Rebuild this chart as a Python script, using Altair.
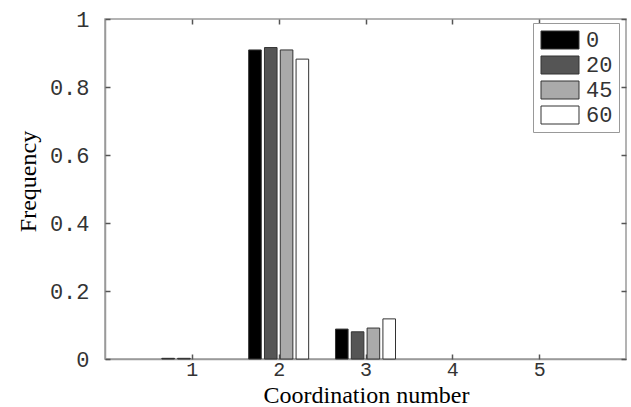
import altair as alt
import pandas as pd

coords = [1, 2, 3]
angles = ["0", "20", "45", "60"]
freq_0 = [0.002, 0.909, 0.088]
freq_20 = [0.002, 0.916, 0.080]
freq_45 = [0.0, 0.909, 0.091]
freq_60 = [0.0, 0.882, 0.118]
colors = ["#000000", "#555555", "#aaaaaa", "#ffffff"]
x_ticks = [1, 2, 3, 4, 5]
y_ticks = [0, 0.2, 0.4, 0.6, 0.8, 1]

STEP = 0.182
BAR_W = 0.145

rows = []
for i, (a, vals) in enumerate(zip(angles, [freq_0, freq_20, freq_45, freq_60])):
    for c, v in zip(coords, vals):
        center = c + (i - 1.5) * STEP
        rows.append({"coord": c, "angle": a, "freq": v,
                     "x0": center - BAR_W / 2, "x1": center + BAR_W / 2})
df = pd.DataFrame(rows)

xscale = alt.Scale(domain=[0, 6], nice=False, zero=False)
yscale = alt.Scale(domain=[0, 1], nice=False)

mono = "Liberation Mono"
serif = "Liberation Serif"
TICK = "#555555"

bars = alt.Chart(df).transform_filter("datum.freq > 0").mark_rect(
    stroke="#333333", strokeWidth=1
).encode(
    x=alt.X("x0:Q", scale=xscale, axis=alt.Axis(
        orient="bottom", values=x_ticks, format="d", title="Coordination number",
        labelFont=mono, labelFontSize=20, labelColor="#333333", labelPadding=0,
        ticks=False, tickSize=0,
        titleFont=serif, titleFontSize=24, titleFontWeight="normal", titleColor="black",
        titleX=261, titleY=43, titleBaseline="alphabetic", titleAlign="center",
        grid=False)),
    x2="x1:Q",
    y=alt.Y("freq:Q", scale=yscale, axis=alt.Axis(
        orient="left", values=y_ticks, format="~g", title="Frequency",
        labelFont=mono, labelFontSize=22, labelColor="#333333", labelPadding=16,
        ticks=False, tickSize=0,
        titleFont=serif, titleFontSize=24, titleFontWeight="normal", titleColor="black",
        titleX=-77, titleY=162, titleBaseline="middle", titleAlign="center", titleAngle=-90,
        grid=False)),
    y2=alt.datum(0),
    color=alt.Color("angle:N", scale=alt.Scale(domain=angles, range=colors),
                    sort=angles,
                    legend=alt.Legend(
                        title=None, orient="none", legendX=428, legendY=4,
                        symbolType="M-2.11,-1L2.11,-1L2.11,1L-2.11,1Z", symbolSize=324,
                        symbolStrokeColor="#333333", symbolStrokeWidth=1,
                        symbolOffset=10, labelOffset=15,
                        labelFont=mono, labelFontSize=22, labelColor="#333333",
                        padding=6, rowPadding=3,
                        strokeColor="#999999", fillColor="white", symbolOpacity=1)),
)


def tick_layer(xorient, yorient):
    return alt.Chart(df).mark_rect(opacity=0).encode(
        x=alt.X("x0:Q", scale=xscale, axis=alt.Axis(
            orient=xorient, values=x_ticks, labels=False, domain=False, title=None,
            ticks=True, tickSize=5, tickColor=TICK, tickWidth=1.5, grid=False, offset=-5)),
        x2="x1:Q",
        y=alt.Y("freq:Q", scale=yscale, axis=alt.Axis(
            orient=yorient, values=y_ticks, labels=False, domain=False, title=None,
            ticks=True, tickSize=5, tickColor=TICK, tickWidth=1.5, grid=False, offset=-5)),
        y2=alt.datum(0),
    )


chart = alt.layer(
    bars, tick_layer("bottom", "left"), tick_layer("top", "right")
).resolve_axis(x="independent", y="independent").properties(
    width=521, height=340,
    autosize=alt.AutoSizeParams(type="none"),
    padding={"left": 105, "top": 19, "right": 5, "bottom": 48},
    background="white",
).configure_view(
    stroke="#9a9a9a", strokeWidth=1.5
).configure_axis(
    domainColor="#9a9a9a", domainWidth=1.5
)

chart.save("out.html", embed_options={"renderer": "svg", "actions": False})
